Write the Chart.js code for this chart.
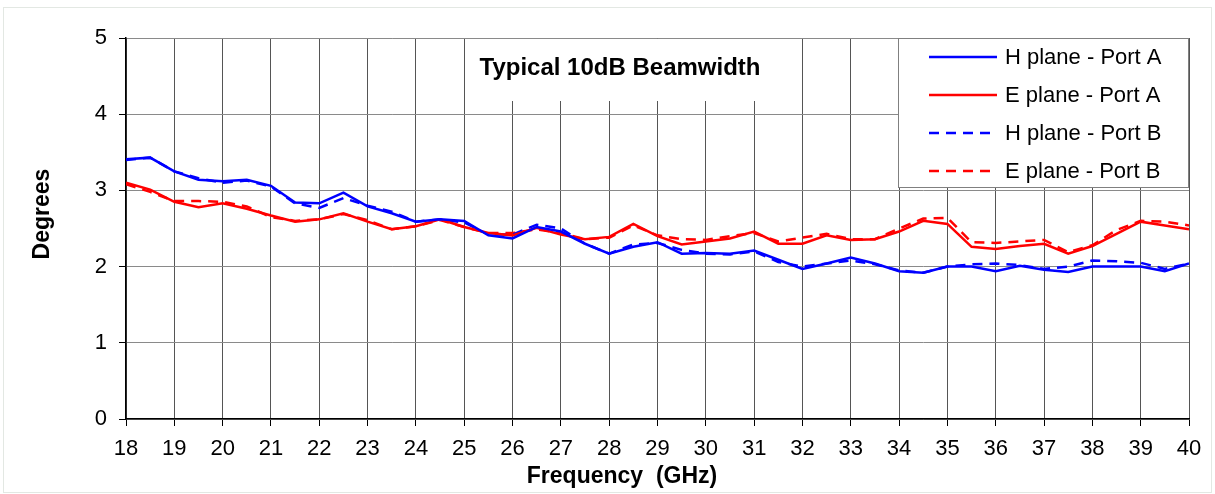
<!DOCTYPE html>
<html>
<head>
<meta charset="utf-8">
<script src="https://cdn.jsdelivr.net/npm/chart.js@4/dist/chart.umd.min.js"></script>
<style>
html,body{margin:0;padding:0;background:#fff;}
#wrap{width:1215px;height:494px;position:relative;}
</style>
</head>
<body>
<div id="wrap"><canvas id="c" width="1215" height="494"></canvas></div>
<script>
// ---- data ----
const frequency = [18,18.5,19,19.5,20,20.5,21,21.5,22,22.5,23,23.5,24,24.5,25,25.5,26,26.5,27,27.5,28,28.5,29,29.5,30,30.5,31,31.5,32,32.5,33,33.5,34,34.5,35,35.5,36,36.5,37,37.5,38,38.5,39,39.5,40];
const hPlanePortA = [3.41,3.43,3.25,3.14,3.12,3.14,3.06,2.84,2.83,2.97,2.79,2.70,2.59,2.62,2.60,2.41,2.37,2.52,2.46,2.30,2.17,2.26,2.32,2.17,2.18,2.17,2.21,2.09,1.97,2.04,2.12,2.04,1.94,1.92,2.00,2.00,1.94,2.01,1.96,1.93,2.00,2.00,2.00,1.94,2.04];
const ePlanePortA = [3.10,3.01,2.85,2.78,2.83,2.76,2.67,2.59,2.62,2.70,2.59,2.49,2.53,2.62,2.52,2.44,2.41,2.51,2.42,2.36,2.39,2.56,2.40,2.29,2.33,2.37,2.46,2.30,2.30,2.41,2.35,2.36,2.46,2.60,2.56,2.26,2.23,2.27,2.30,2.17,2.27,2.43,2.59,2.54,2.49];
const hPlanePortB = [3.40,3.43,3.25,3.16,3.10,3.13,3.05,2.83,2.77,2.90,2.80,2.72,2.59,2.62,2.58,2.42,2.42,2.55,2.50,2.30,2.17,2.29,2.31,2.22,2.17,2.16,2.20,2.06,2.00,2.04,2.08,2.03,1.95,1.92,2.00,2.03,2.04,2.02,1.97,2.00,2.08,2.07,2.05,1.97,2.04];
const ePlanePortB = [3.08,2.98,2.86,2.86,2.85,2.79,2.65,2.60,2.62,2.69,2.61,2.49,2.53,2.61,2.52,2.44,2.44,2.49,2.44,2.36,2.38,2.54,2.41,2.36,2.35,2.40,2.44,2.33,2.38,2.43,2.36,2.36,2.50,2.63,2.64,2.32,2.31,2.33,2.35,2.19,2.28,2.48,2.60,2.59,2.54];
const seriesLabels = ["H plane - Port A","E plane - Port A","H plane - Port B","E plane - Port B"];
const chartTitle = "Typical 10dB Beamwidth";
const xTitle = "Frequency  (GHz)";
const yTitle = "Degrees";

const FONT = "'Liberation Sans', Arial, sans-serif";
function pts(vals){ return frequency.map((f,i)=>({x:f,y:vals[i]})); }

const boxesPlugin = {
  id:'boxes',
  beforeDraw(chart){
    const ctx = chart.ctx;
    ctx.save();
    ctx.fillStyle='#fff';
    ctx.fillRect(0,0,chart.width,chart.height);
    ctx.strokeStyle='#e3e8e3';
    ctx.lineWidth=1;
    ctx.strokeRect(3.5,7.5,1208,485);
    ctx.restore();
  },
  beforeDatasetsDraw(chart){
    const ctx = chart.ctx, a = chart.chartArea;
    ctx.save();
    // title box
    ctx.fillStyle='#fff';
    ctx.fillRect(466, a.top+1, 308, 62);
    ctx.font = "bold 24px "+FONT;
    ctx.fillStyle='#000';
    ctx.textAlign='center';
    ctx.textBaseline='middle';
    ctx.fillText(chartTitle, 620, 68);
    // legend box
    const lx=898, ly=a.top, lw=a.right-898, lh=149;
    ctx.fillStyle='#fff';
    ctx.fillRect(lx,ly,lw,lh);
    ctx.strokeStyle='#808080';
    ctx.lineWidth=1;
    ctx.strokeRect(lx+0.5,ly+0.5,lw-1,lh);
    ctx.restore();
  },
  afterDraw(chart){
    const ctx = chart.ctx;
    ctx.save();
    // axis titles
    ctx.fillStyle='#000';
    ctx.font="bold 23px "+FONT;
    ctx.textAlign='center';
    ctx.textBaseline='middle';
    ctx.fillText(xTitle, 622, 477);
    ctx.save();
    ctx.translate(43, 214);
    ctx.rotate(-Math.PI/2);
    ctx.fillText(yTitle, 0, 0);
    ctx.restore();
    // legend
    const rows=[57,95,133,171];
    chart.data.datasets.forEach((ds,i)=>{
      const y=rows[i];
      ctx.strokeStyle=ds.borderColor;
      ctx.lineWidth=2.5;
      ctx.setLineDash(ds.borderDash||[]);
      ctx.beginPath();
      ctx.moveTo(929,y);ctx.lineTo(997,y);
      ctx.stroke();
      ctx.setLineDash([]);
      ctx.fillStyle='#000';
      ctx.font="22px "+FONT;
      ctx.textAlign='left';
      ctx.textBaseline='middle';
      ctx.fillText(ds.label,1005,y+1);
    });
    ctx.restore();
  }
};

new Chart(document.getElementById('c'),{
  type:'line',
  data:{
    datasets:[
      {label:seriesLabels[0],data:pts(hPlanePortA),borderColor:'#0000ff',borderWidth:2.5,pointRadius:0,tension:0,fill:false},
      {label:seriesLabels[1],data:pts(ePlanePortA),borderColor:'#ff0000',borderWidth:2.5,pointRadius:0,tension:0,fill:false},
      {label:seriesLabels[2],data:pts(hPlanePortB),borderColor:'#0000ff',borderWidth:2.5,borderDash:[10,7],pointRadius:0,tension:0,fill:false},
      {label:seriesLabels[3],data:pts(ePlanePortB),borderColor:'#ff0000',borderWidth:2.5,borderDash:[10,7],pointRadius:0,tension:0,fill:false}
    ]
  },
  options:{
    responsive:false,
    animation:false,
    events:[],
    layout:{padding:{top:38,right:26,left:0,bottom:0}},
    plugins:{legend:{display:false},tooltip:{enabled:false},title:{display:false}},
    scales:{
      x:{
        type:'linear',min:18,max:40,
        afterFit(s){s.height=75;},
        ticks:{stepSize:1,color:'#000',font:{family:FONT,size:22},padding:10,maxRotation:0,autoSkip:false},
        grid:{color:'#555',lineWidth:1,tickLength:7,drawTicks:true,tickColor:'#000'},
        border:{color:'#000',width:1.5},
        title:{display:false}
      },
      y:{
        min:0,max:5,
        afterFit(s){s.width=126;},
        ticks:{stepSize:1,color:'#000',font:{family:FONT,size:22},padding:12},
        grid:{color:'#8a8a8a',lineWidth:1,tickLength:7,drawTicks:true,tickColor:'#000'},
        border:{color:'#000',width:1.5},
        title:{display:false}
      }
    }
  },
  plugins:[boxesPlugin]
});
</script>
</body>
</html>
